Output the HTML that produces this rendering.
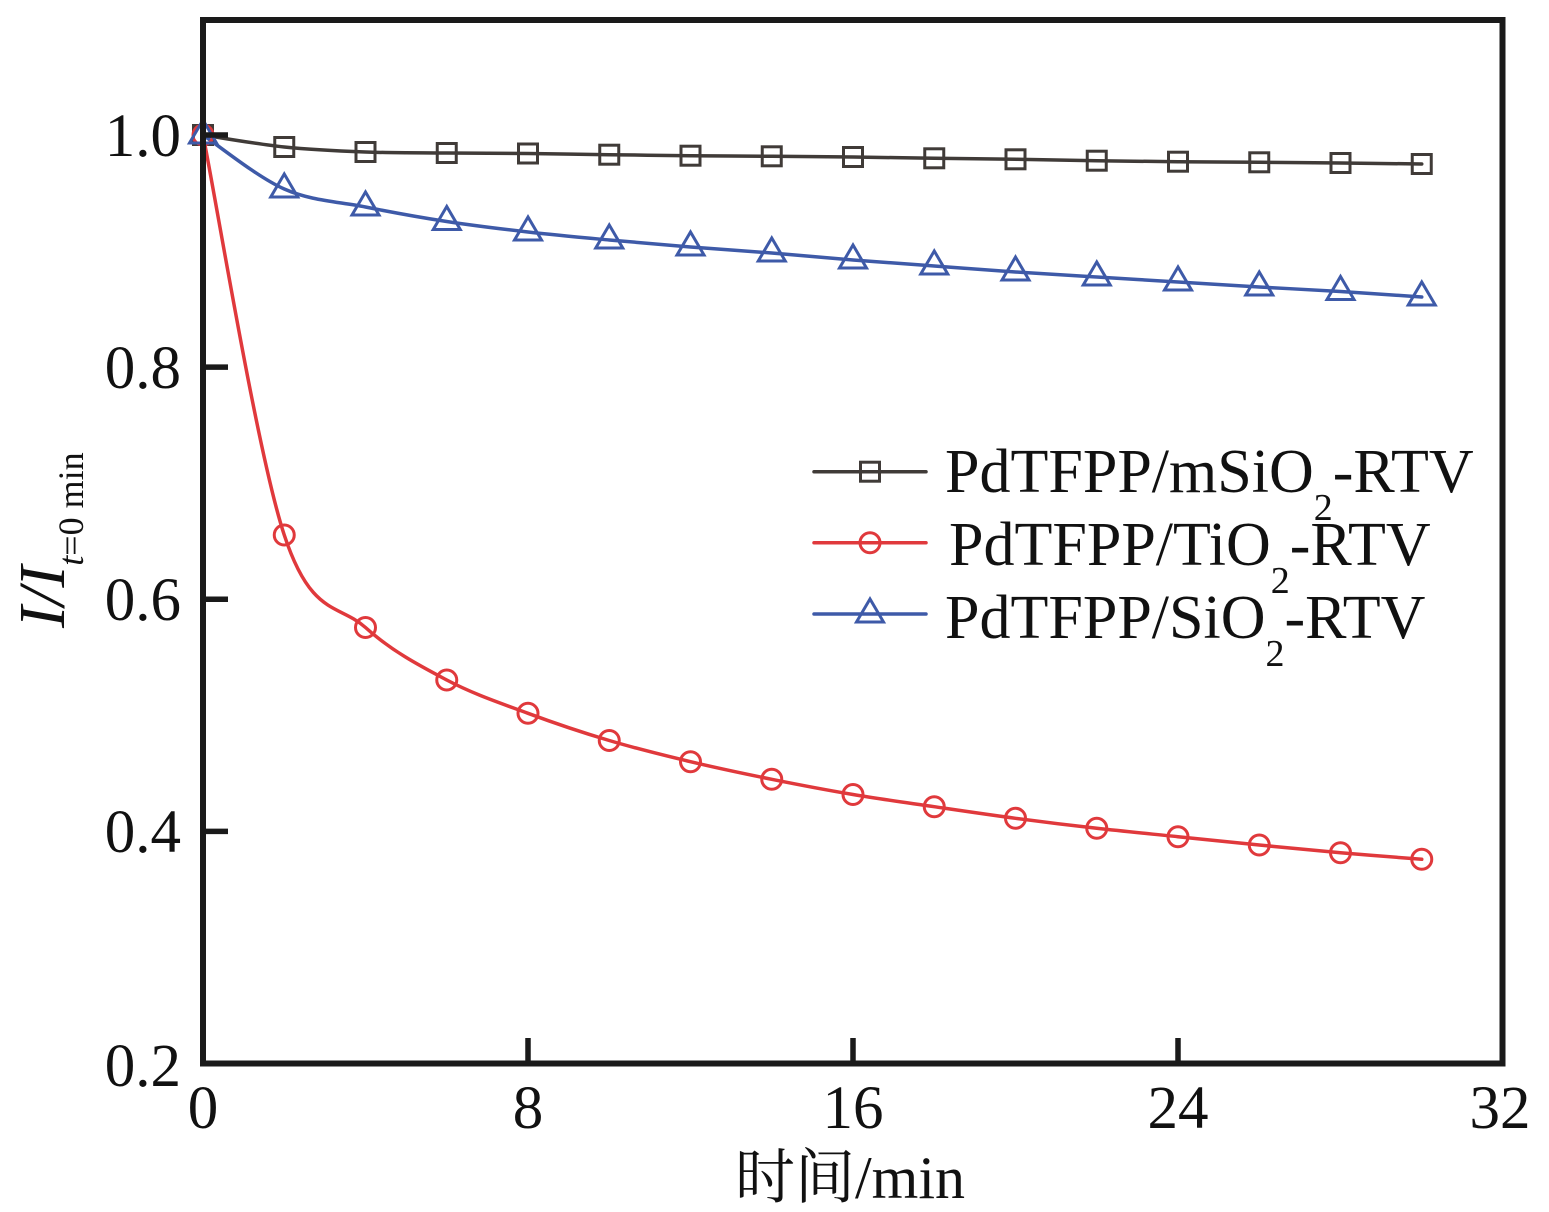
<!DOCTYPE html>
<html>
<head>
<meta charset="utf-8">
<style>
  html, body { margin: 0; padding: 0; background: #ffffff; }
  svg { display: block; }
</style>
</head>
<body>
<svg width="1549" height="1212" viewBox="0 0 1549 1212" xmlns="http://www.w3.org/2000/svg">
  <rect x="0" y="0" width="1549" height="1212" fill="#ffffff"/>

  <!-- Series lines -->
  <g fill="none" stroke-width="3.5" stroke-linecap="round" stroke-linejoin="round">
    <path stroke="#403b38" d="M203,135 C216.54,137 257.17,144.17 284.25,147 C311.33,149.83 338.42,151 365.5,152 C392.58,153 419.67,152.75 446.75,153 C473.83,153.25 500.92,153.22 528,153.5 C555.08,153.78 582.17,154.33 609.25,154.7 C636.33,155.07 663.42,155.43 690.5,155.7 C717.58,155.97 744.67,156.08 771.75,156.3 C798.83,156.52 825.92,156.67 853,157 C880.08,157.33 907.17,157.92 934.25,158.3 C961.33,158.68 988.42,158.9 1015.5,159.3 C1042.58,159.7 1069.67,160.3 1096.75,160.7 C1123.83,161.1 1150.92,161.43 1178,161.7 C1205.08,161.97 1232.17,162.08 1259.25,162.3 C1286.33,162.52 1313.42,162.72 1340.5,163 C1367.58,163.28 1408.21,163.83 1421.75,164"/>
    <path stroke="#e0393c" d="M203,135 C216.54,201.67 257.17,452.92 284.25,535 C311.33,617.08 338.42,603.33 365.5,627.5 C392.58,651.67 419.67,665.7 446.75,680 C473.83,694.3 500.92,703.22 528,713.3 C555.08,723.38 582.17,732.43 609.25,740.5 C636.33,748.57 663.42,755.23 690.5,761.7 C717.58,768.17 744.67,773.83 771.75,779.3 C798.83,784.77 825.92,789.93 853,794.5 C880.08,799.07 907.17,802.73 934.25,806.7 C961.33,810.67 988.42,814.7 1015.5,818.3 C1042.58,821.9 1069.67,825.23 1096.75,828.3 C1123.83,831.37 1150.92,833.92 1178,836.7 C1205.08,839.48 1232.17,842.33 1259.25,845 C1286.33,847.67 1313.42,850.32 1340.5,852.7 C1367.58,855.08 1408.21,858.2 1421.75,859.3"/>
    <path stroke="#3e5aa8" d="M203,135 C216.54,144 257.17,177 284.25,189 C311.33,201 338.42,201.58 365.5,207 C392.58,212.42 419.67,217.33 446.75,221.5 C473.83,225.67 500.92,228.92 528,232 C555.08,235.08 582.17,237.5 609.25,240 C636.33,242.5 663.42,244.83 690.5,247 C717.58,249.17 744.67,250.83 771.75,253 C798.83,255.17 825.92,257.83 853,260 C880.08,262.17 907.17,264 934.25,266 C961.33,268 988.42,270.17 1015.5,272 C1042.58,273.83 1069.67,275.33 1096.75,277 C1123.83,278.67 1150.92,280.33 1178,282 C1205.08,283.67 1232.17,285.42 1259.25,287 C1286.33,288.58 1313.42,289.83 1340.5,291.5 C1367.58,293.17 1408.21,296.08 1421.75,297"/>
  </g>

  <!-- Square markers (black series) -->
  <g fill="none" stroke="#403b38" stroke-width="3">
    <rect x="193.5" y="125.5" width="19" height="19"/>
    <rect x="274.75" y="137.5" width="19" height="19"/>
    <rect x="356" y="142.5" width="19" height="19"/>
    <rect x="437.25" y="143.5" width="19" height="19"/>
    <rect x="518.5" y="144" width="19" height="19"/>
    <rect x="599.75" y="145.2" width="19" height="19"/>
    <rect x="681" y="146.2" width="19" height="19"/>
    <rect x="762.25" y="146.8" width="19" height="19"/>
    <rect x="843.5" y="147.5" width="19" height="19"/>
    <rect x="924.75" y="148.8" width="19" height="19"/>
    <rect x="1006" y="149.8" width="19" height="19"/>
    <rect x="1087.25" y="151.2" width="19" height="19"/>
    <rect x="1168.5" y="152.2" width="19" height="19"/>
    <rect x="1249.75" y="152.8" width="19" height="19"/>
    <rect x="1331" y="153.5" width="19" height="19"/>
    <rect x="1412.25" y="154.5" width="19" height="19"/>
  </g>

  <!-- Circle markers (red series) -->
  <g fill="none" stroke="#e0393c" stroke-width="3">
    <circle cx="203" cy="135" r="10"/>
    <circle cx="284.25" cy="535" r="10"/>
    <circle cx="365.5" cy="627.5" r="10"/>
    <circle cx="446.75" cy="680" r="10"/>
    <circle cx="528" cy="713.3" r="10"/>
    <circle cx="609.25" cy="740.5" r="10"/>
    <circle cx="690.5" cy="761.7" r="10"/>
    <circle cx="771.75" cy="779.3" r="10"/>
    <circle cx="853" cy="794.5" r="10"/>
    <circle cx="934.25" cy="806.7" r="10"/>
    <circle cx="1015.5" cy="818.3" r="10"/>
    <circle cx="1096.75" cy="828.3" r="10"/>
    <circle cx="1178" cy="836.7" r="10"/>
    <circle cx="1259.25" cy="845" r="10"/>
    <circle cx="1340.5" cy="852.7" r="10"/>
    <circle cx="1421.75" cy="859.3" r="10"/>
  </g>

  <!-- Triangle markers (blue series) -->
  <g fill="none" stroke="#3e5aa8" stroke-width="3" stroke-linejoin="miter">
    <polygon points="203,120 189.5,143 216.5,143"/>
    <polygon points="284.25,174 270.75,197 297.75,197"/>
    <polygon points="365.5,192 352,215 379,215"/>
    <polygon points="446.75,206.5 433.25,229.5 460.25,229.5"/>
    <polygon points="528,217 514.5,240 541.5,240"/>
    <polygon points="609.25,225 595.75,248 622.75,248"/>
    <polygon points="690.5,232 677,255 704,255"/>
    <polygon points="771.75,238 758.25,261 785.25,261"/>
    <polygon points="853,245 839.5,268 866.5,268"/>
    <polygon points="934.25,251 920.75,274 947.75,274"/>
    <polygon points="1015.5,257 1002,280 1029,280"/>
    <polygon points="1096.75,262 1083.25,285 1110.25,285"/>
    <polygon points="1178,267 1164.5,290 1191.5,290"/>
    <polygon points="1259.25,272 1245.75,295 1272.75,295"/>
    <polygon points="1340.5,276.5 1327,299.5 1354,299.5"/>
    <polygon points="1421.75,282 1408.25,305 1435.25,305"/>
  </g>

  <!-- Ticks -->
  <g stroke="#1a1a1a" stroke-width="5.5">
    <line x1="203" y1="135" x2="228" y2="135"/>
    <line x1="203" y1="367.1" x2="228" y2="367.1"/>
    <line x1="203" y1="599.2" x2="228" y2="599.2"/>
    <line x1="203" y1="831.4" x2="228" y2="831.4"/>
    <line x1="528" y1="1063.5" x2="528" y2="1038"/>
    <line x1="853" y1="1063.5" x2="853" y2="1038"/>
    <line x1="1178" y1="1063.5" x2="1178" y2="1038"/>
  </g>

  <!-- Frame -->
  <rect x="203" y="20" width="1299.5" height="1043.5" fill="none" stroke="#1a1a1a" stroke-width="6"/>

  <!-- Y tick labels -->
  <g font-family="'Liberation Serif', serif" font-size="61" fill="#111" text-anchor="end">
    <text x="181" y="156">1.0</text>
    <text x="181" y="388">0.8</text>
    <text x="181" y="620">0.6</text>
    <text x="181" y="852">0.4</text>
    <text x="181" y="1086">0.2</text>
  </g>

  <!-- X tick labels -->
  <g font-family="'Liberation Serif', serif" font-size="61" fill="#111" text-anchor="middle">
    <text x="203" y="1128">0</text>
    <text x="528" y="1128">8</text>
    <text x="853" y="1128">16</text>
    <text x="1178" y="1128">24</text>
    <text x="1500" y="1128">32</text>
  </g>

  <!-- X axis title -->
  <text x="850" y="1198" font-family="'Liberation Serif', 'Noto Serif CJK SC', serif" font-size="60" fill="#111" text-anchor="middle">时间/min</text>

  <!-- Y axis title -->
  <text transform="translate(64,628) rotate(-90)" font-family="'Liberation Serif', serif" font-size="66" fill="#111"><tspan font-style="italic">I/I</tspan><tspan font-size="36" dy="19"><tspan font-style="italic">t</tspan>=0 min</tspan></text>

  <!-- Legend -->
  <g stroke-width="3.5" fill="none">
    <line x1="814" y1="471.7" x2="926" y2="471.7" stroke="#403b38" stroke-linecap="round"/>
    <rect x="860.5" y="462.2" width="19" height="19" stroke="#403b38" stroke-width="3"/>
    <line x1="814" y1="542.7" x2="926" y2="542.7" stroke="#e0393c" stroke-linecap="round"/>
    <circle cx="870" cy="542.7" r="10" stroke="#e0393c" stroke-width="3"/>
    <line x1="814" y1="614" x2="926" y2="614" stroke="#3e5aa8" stroke-linecap="round"/>
    <polygon points="870,599 856.5,622 883.5,622" stroke="#3e5aa8" stroke-width="3"/>
  </g>
  <g font-family="'Liberation Serif', serif" font-size="62" fill="#111">
    <text x="945" y="492">PdTFPP/mSiO<tspan font-size="38" dy="28">2</tspan><tspan dy="-28">-RTV</tspan></text>
    <text x="949" y="565">PdTFPP/TiO<tspan font-size="38" dy="28">2</tspan><tspan dy="-28">-RTV</tspan></text>
    <text x="945" y="638">PdTFPP/SiO<tspan font-size="38" dy="28">2</tspan><tspan dy="-28">-RTV</tspan></text>
  </g>
</svg>
</body>
</html>
